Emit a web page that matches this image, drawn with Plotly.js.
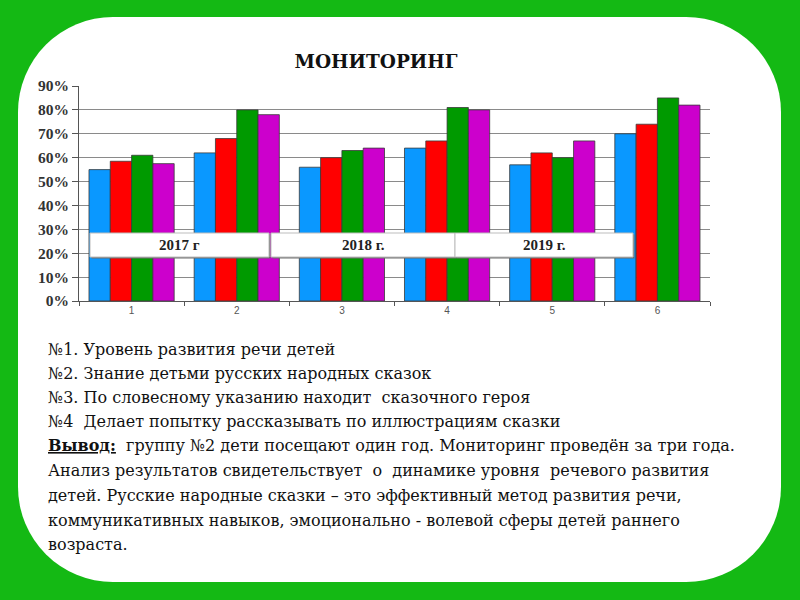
<!DOCTYPE html>
<html>
<head>
<meta charset="utf-8">
<script src="https://cdn.plot.ly/plotly-3.0.1.min.js"></script>
<style>
  html, body { margin:0; padding:0; width:800px; height:600px; overflow:hidden; }
  body { background:#14b914; position:relative; }
  #card { position:absolute; left:18px; top:17px; width:763px; height:565px; background:#fff; border-radius:95px; }
  #chart { position:absolute; left:0; top:0; width:800px; height:600px; }
</style>
</head>
<body>
<div id="card"></div>
<div id="chart"></div>
<script>
const categories = ['1', '2', '3', '4', '5', '6'];
const series1 = [0.55, 0.62, 0.56, 0.64, 0.57, 0.70];
const series2 = [0.585, 0.68, 0.60, 0.67, 0.62, 0.74];
const series3 = [0.61, 0.80, 0.63, 0.81, 0.60, 0.85];
const series4 = [0.575, 0.78, 0.64, 0.80, 0.67, 0.82];
const seriesNames = ['№1', '№2', '№3', '№4'];
const seriesColors = ['#0a98ff', '#ff0000', '#009a00', '#cc00cc'];
const yearLabels = ['2017 г', '2018 г.', '2019 г.'];
const textLines = [
  '№1. Уровень развития речи детей',
  '№2. Знание детьми русских народных сказок',
  '№3. По словесному указанию находит  сказочного героя',
  '№4  Делает попытку рассказывать по иллюстрациям сказки',
  '<b><u>Вывод:</u></b>  группу №2 дети посещают один год. Мониторинг проведён за три года.',
  'Анализ результатов свидетельствует  о  динамике уровня  речевого развития',
  'детей. Русские народные сказки – это эффективный метод развития речи,',
  'коммуникативных навыков, эмоционально - волевой сферы детей раннего',
  'возраста.'
];

const SERIF1 = 'Times New Roman, Liberation Serif, serif';
const SERIF2 = 'DejaVu Serif, serif';

const allSeries = [series1, series2, series3, series4];
const traces = allSeries.map((vals, i) => ({
  type: 'bar',
  x: categories,
  y: vals,
  name: seriesNames[i],
  marker: { color: seriesColors[i], line: { color: '#3a3a3a', width: 0.8 } },
  hoverinfo: 'y'
}));

const PL = 79, PR = 710, PT = 86, PB = 301;
const px = v => (v - PL) / (PR - PL);
const py = v => (PB - v) / (PB - PT);

const shapes = [];
const annotations = [];
const boxes = [[90, 269], [271, 455], [455, 633]];
boxes.forEach((b, i) => {
  shapes.push({ type: 'rect', xref: 'paper', yref: 'paper', x0: px(b[0] + 1.5), x1: px(b[1] + 1.5), y0: py(258.5), y1: py(234.5),
    fillcolor: '#6e6e6e', line: { width: 0 }, layer: 'above' });
  shapes.push({ type: 'rect', xref: 'paper', yref: 'paper', x0: px(b[0]), x1: px(b[1]), y0: py(257), y1: py(233),
    fillcolor: '#ffffff', line: { color: '#bdbdbd', width: 1 }, layer: 'above' });
  annotations.push({ xref: 'paper', yref: 'paper', x: px((b[0] + b[1]) / 2), y: py(245), text: '<b>' + yearLabels[i] + '</b>',
    showarrow: false, xanchor: 'center', yanchor: 'middle', font: { family: SERIF1, size: 15, color: '#222' } });
});

const lineY = [349, 373, 397, 421, 445, 470, 495, 520, 544];
textLines.forEach((t, i) => {
  annotations.push({ xref: 'paper', yref: 'paper', x: px(46), y: py(lineY[i]), text: t, showarrow: false,
    xanchor: 'left', yanchor: 'middle', align: 'left', font: { family: SERIF2, size: 16, color: '#111' } });
});

const layout = {
  width: 800, height: 600,
  paper_bgcolor: 'rgba(0,0,0,0)',
  plot_bgcolor: 'rgba(0,0,0,0)',
  margin: { l: PL, r: 800 - PR, t: PT, b: 600 - PB, pad: 0 },
  title: { text: '<b>МОНИТОРИНГ</b>', x: 376 / 800, y: 1 - 62 / 600, xanchor: 'center', yanchor: 'middle',
    font: { family: SERIF2, size: 18.5, color: '#111' } },
  showlegend: false,
  barmode: 'group',
  bargap: 0.19,
  bargroupgap: 0,
  xaxis: {
    type: 'category',
    showline: true, linecolor: '#555', linewidth: 1,
    ticks: 'outside', tickson: 'boundaries', ticklen: 4, tickcolor: '#555',
    showgrid: false,
    tickfont: { family: 'Arial', size: 10, color: '#555' }
  },
  yaxis: {
    range: [0, 0.9], dtick: 0.1, tickformat: '.0%',
    showline: true, linecolor: '#555', linewidth: 1,
    ticks: 'outside', ticklen: 6, tickcolor: '#555',
    gridcolor: '#8a8a8a', gridwidth: 1, zeroline: false,
    tickfont: { family: SERIF1, size: 15.5, color: '#333', weight: 'bold' }
  },
  shapes: shapes,
  annotations: annotations
};

Plotly.newPlot('chart', traces, layout, { displayModeBar: false, staticPlot: true });
</script>
</body>
</html>
